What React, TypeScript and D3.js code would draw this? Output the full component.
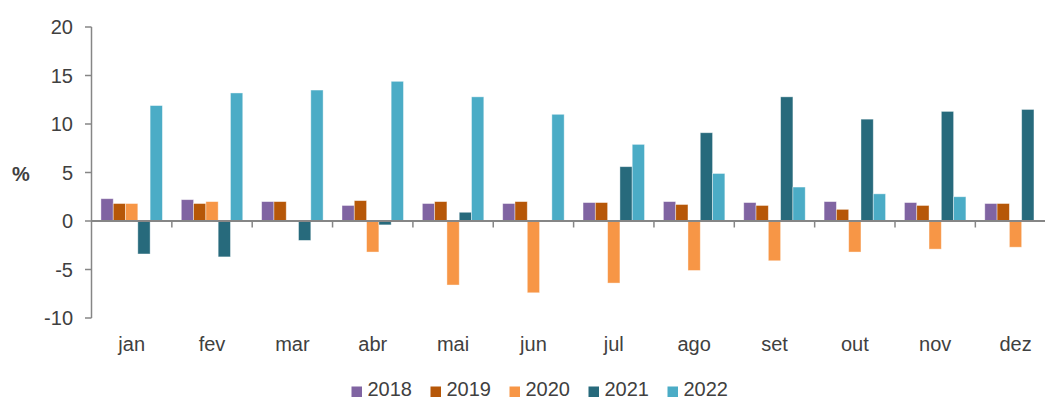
import React, { useEffect, useRef } from 'react';
import * as d3 from 'd3';

const months = ['jan', 'fev', 'mar', 'abr', 'mai', 'jun', 'jul', 'ago', 'set', 'out', 'nov', 'dez'];
const years = ['2018', '2019', '2020', '2021', '2022'];

const v2018 = [2.3, 2.2, 2.0, 1.6, 1.8, 1.8, 1.9, 2.0, 1.9, 2.0, 1.9, 1.8];
const v2019 = [1.8, 1.8, 2.0, 2.1, 2.0, 2.0, 1.9, 1.7, 1.6, 1.2, 1.6, 1.8];
const v2020 = [1.8, 2.0, 0, -3.2, -6.6, -7.4, -6.4, -5.1, -4.1, -3.2, -2.9, -2.7];
const v2021 = [-3.4, -3.7, -2.0, -0.4, 0.9, 0, 5.6, 9.1, 12.8, 10.5, 11.3, 11.5];
const v2022 = [11.9, 13.2, 13.5, 14.4, 12.8, 11.0, 7.9, 4.9, 3.5, 2.8, 2.5, 0];

const yTicks = [-10, -5, 0, 5, 10, 15, 20];
const colors = ['#8064A2', '#B65708', '#F79646', '#276A7C', '#4BACC6'];

export default function App() {
  const svgRef = useRef<SVGSVGElement | null>(null);

  useEffect(() => {
    if (!svgRef.current) return;
    const svg = d3.select(svgRef.current);
    svg.selectAll('*').remove();

    const series = [v2018, v2019, v2020, v2021, v2022];
    const font = 'Liberation Sans, Arial, sans-serif';

    const y = d3.scaleLinear().domain([-10, 20]).range([318, 27]);
    const x0 = d3.scaleBand<string>()
      .domain(months)
      .range([91.5, 1055.7])
      .paddingInner(0.235)
      .paddingOuter(0.1175);
    const x1 = d3.scaleBand<string>().domain(years).range([0, x0.bandwidth()]);
    const step = x0.step();

    // bars
    const g = svg.append('g');
    series.forEach((vals, si) => {
      g.selectAll(null)
        .data(vals)
        .enter()
        .append('rect')
        .attr('x', (_, i) => (x0(months[i]) ?? 0) + (x1(years[si]) ?? 0))
        .attr('y', d => y(Math.max(0, d)))
        .attr('width', x1.bandwidth())
        .attr('height', d => Math.abs(y(d) - y(0)))
        .attr('fill', colors[si])
        .attr('stroke', '#fff')
        .attr('stroke-opacity', 0.5)
        .attr('stroke-width', 0.8);
    });

    // y axis
    const axisColor = '#868686';
    svg.append('line')
      .attr('x1', 91.5).attr('x2', 91.5)
      .attr('y1', y(20)).attr('y2', y(-10))
      .attr('stroke', axisColor).attr('stroke-width', 1.5);
    yTicks.forEach(t => {
      svg.append('line')
        .attr('x1', 85).attr('x2', 91.5)
        .attr('y1', y(t)).attr('y2', y(t))
        .attr('stroke', axisColor).attr('stroke-width', 1.5);
      svg.append('text')
        .attr('x', 73).attr('y', y(t))
        .attr('dy', '0.35em')
        .attr('text-anchor', 'end')
        .attr('font-family', font)
        .attr('font-size', 20)
        .attr('fill', '#404040')
        .text(String(t));
    });

    // zero line + category ticks
    svg.append('line')
      .attr('x1', 91.5).attr('x2', 1056)
      .attr('y1', y(0)).attr('y2', y(0))
      .attr('stroke', axisColor).attr('stroke-width', 2);
    months.forEach((m, i) => {
      const bx = 91.5 + step * (i + 1);
      svg.append('line')
        .attr('x1', bx).attr('x2', bx)
        .attr('y1', y(0)).attr('y2', y(0) + 6.5)
        .attr('stroke', axisColor).attr('stroke-width', 1.5);
      svg.append('text')
        .attr('x', (x0(m) ?? 0) + x0.bandwidth() / 2)
        .attr('y', 351)
        .attr('text-anchor', 'middle')
        .attr('font-family', font)
        .attr('font-size', 20)
        .attr('fill', '#404040')
        .text(m);
    });

    // unit label
    svg.append('text')
      .attr('x', 21).attr('y', 181)
      .attr('text-anchor', 'middle')
      .attr('font-family', font)
      .attr('font-size', 20)
      .attr('font-weight', 'bold')
      .attr('fill', '#404040')
      .text('%');

    // legend
    const lg = svg.append('g');
    years.forEach((yr, i) => {
      const lx = 351.5 + i * 79;
      lg.append('rect')
        .attr('x', lx).attr('y', 386.5)
        .attr('width', 10.5).attr('height', 10.5)
        .attr('fill', colors[i]);
      lg.append('text')
        .attr('x', lx + 16).attr('y', 395.5)
        .attr('font-family', font)
        .attr('font-size', 20)
        .attr('fill', '#404040')
        .text(yr);
    });
  }, []);

  return (
    <svg
      ref={svgRef}
      width={1045}
      height={400}
      style={{ position: 'absolute', left: 0, top: 0, background: '#fff' }}
    />
  );
}
